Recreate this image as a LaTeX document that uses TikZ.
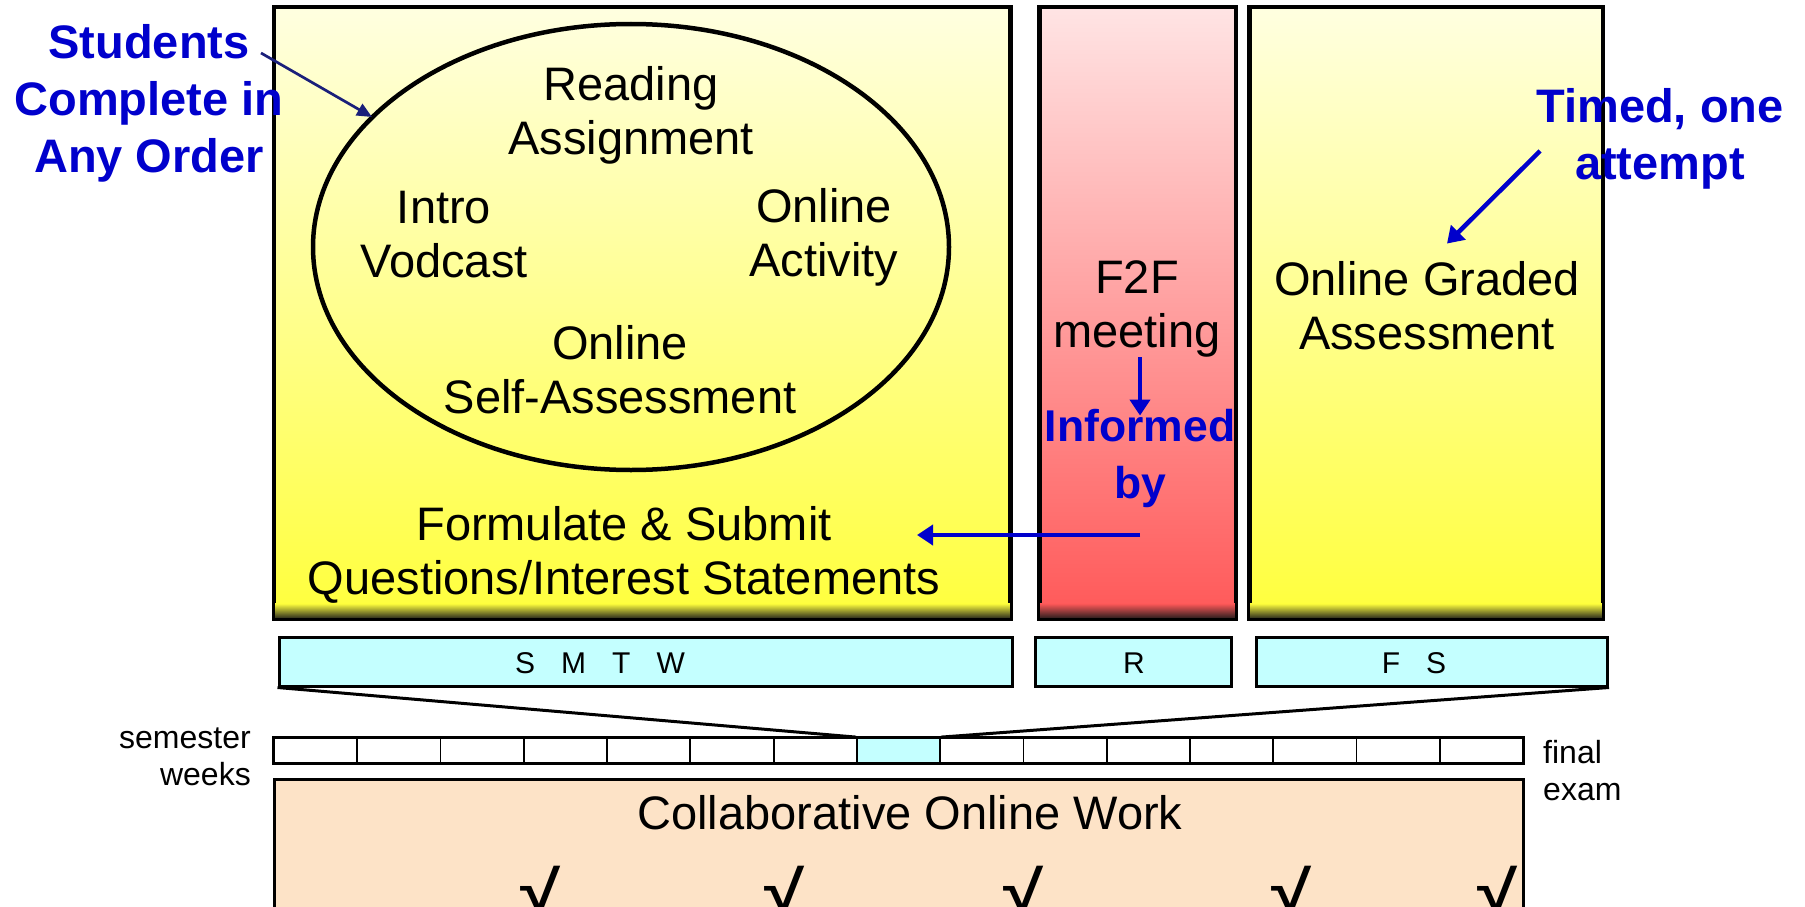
\documentclass[tikz,border=0pt]{standalone}
\usepackage{fontspec}
\usepackage{graphicx}
\setmainfont{Liberation Sans}
\usetikzlibrary{calc}
\usetikzlibrary{arrows.meta}
\usetikzlibrary{shapes.geometric}
\definecolor{lightyellow}{HTML}{FFFFE0}
\definecolor{fullyellow}{HTML}{FFFF3C}
\definecolor{lightred}{HTML}{FFE4E4}
\definecolor{fullred}{HTML}{FF5858}
\definecolor{daycyan}{HTML}{C4FFFF}
\definecolor{workpeach}{HTML}{FDE3C7}
\definecolor{noteblue}{HTML}{0000CC}
\definecolor{notenavy}{HTML}{1A1F7A}

\begin{document}
\begin{tikzpicture}[x=1pt,y=-1pt,
  txt/.style={font=\fontsize{47}{54}\selectfont, align=center, inner sep=0},
  note/.style={font=\fontsize{47}{57}\selectfont\bfseries, text=noteblue, align=center, inner sep=0},
  smalltxt/.style={font=\fontsize{32}{37}\selectfont, inner sep=0},
  daytxt/.style={font=\fontsize{30}{34}\selectfont, inner sep=0},
  stagebox/.style={draw, line width=3pt, inner sep=0, minimum height=610pt},
  daybox/.style={draw, line width=3pt, fill=daycyan, inner sep=0, minimum height=49pt},
  weekcell/.style={draw, line width=1.8pt, inner sep=0, minimum width=83.27pt, minimum height=25pt},
  bluearrow/.style={noteblue, line width=4.5pt, -{Triangle[length=16pt,width=20pt]}},
]
\useasboundingbox (0,0) rectangle (1805,907);

% the three stages of one week
\node[stagebox, top color=lightyellow, bottom color=fullyellow, minimum width=735pt] (prepbox) at (642,313) {};
\node[stagebox, top color=lightred, bottom color=fullred, minimum width=195pt] (meetbox) at (1137.5,313) {};
\node[stagebox, top color=lightyellow, bottom color=fullyellow, minimum width=352pt] (testbox) at (1426,313) {};
\foreach \b/\c in {prepbox/fullyellow, meetbox/fullred, testbox/fullyellow} {
  \shade[top color=\c, bottom color=black!90] ([yshift=16pt]\b.south west) rectangle (\b.south east);
  \draw[line width=3pt] (\b.south west) rectangle (\b.north east);
}

\node[draw, ellipse, line width=4.5pt, minimum width=636pt, minimum height=446pt, inner sep=0] (cycle) at (631,247) {};
\node[txt] (reading) at (631,115) {Reading\\Assignment};
\node[txt] (intro) at (444,235) {Intro\\Vodcast};
\node[txt] (activity) at (824,237) {Online\\Activity};
\node[txt] (selftest) at (620,370) {Online\\Self-Assessment};
\node[txt] (formulate) at (624,555) {Formulate \& Submit\\Questions/Interest Statements};
\node[txt] (f2f) at (1137,309) {F2F\\meeting};
\node[note, font=\fontsize{44.5}{57}\selectfont\bfseries] (informed) at (1140,458) {Informed\\by};
\node[txt] (graded) at (1427,306) {Online Graded\\Assessment};
\node[note] (students) at (149,103) {Students\\Complete in\\Any Order};
\node[note] (timed) at (1660,139) {Timed, one\\attempt};

% notes
\coordinate (studentsfrom) at (261,53);
\coordinate (cycleedge) at (372,117);
\draw[notenavy, line width=2.7pt, -{Triangle[length=15pt,width=13pt]}] (studentsfrom) -- (cycleedge);
\coordinate (timedfrom) at (1540,151);
\draw[bluearrow] (timedfrom) -- ([xshift=20pt,yshift=18pt]graded.north);
\draw[bluearrow] (f2f.south -| informed.north) -- ([yshift=-7pt]informed.north);
\coordinate (formulatein) at (917,535);
\draw[bluearrow] (informed.south |- formulatein) -- (formulatein);

% days
\node[daybox, minimum width=733pt] (smtw) at (645.5,661.5) {};
\node[daybox, minimum width=196pt] (rday) at (1133,661.5) {};
\node[daybox, minimum width=351pt] (fsday) at (1432,661.5) {};
\node[daytxt] (smtwtxt) at (600,663) {S\hspace{26pt}M\hspace{26pt}T\hspace{26pt}W};
\node[daytxt] (rtxt) at (1134,663) {R};
\node[daytxt] (fstxt) at (1414,663) {F\hspace{26pt}S};

% semester weeks
\foreach \i in {0,...,14} {
  \ifnum\i=7 \def\cellfill{daycyan}\else\def\cellfill{white}\fi
  \node[weekcell, fill=\cellfill] (wk\i) at (274+83.27*\i+41.63,750.5) {};
}
\draw[line width=3pt] (wk0.north west) rectangle (wk14.south east);
\draw[line width=3pt] (smtw.south west) -- (wk7.north west);
\draw[line width=3pt] (fsday.south east) -- (wk7.north east);
\node[smalltxt, align=right, anchor=east] (semester) at (251,757) {semester\\weeks};
\node[smalltxt, align=left, anchor=west] (final) at (1543,771) {final\\exam};

\node[draw, line width=3pt, fill=workpeach, minimum width=1249pt, minimum height=200pt, inner sep=0] (workbox) at (898.5,879) {};
\node[txt] (collab) at (910,813) {Collaborative Online Work};
\foreach \x [count=\k] in {540,784,1023,1291,1497}
  \node[font=\fontsize{60}{60}\selectfont\bfseries, anchor=north, inner sep=0] (tick\k) at (\x,866) {\resizebox*{40pt}{46pt}{√}};
\end{tikzpicture}
\end{document}
